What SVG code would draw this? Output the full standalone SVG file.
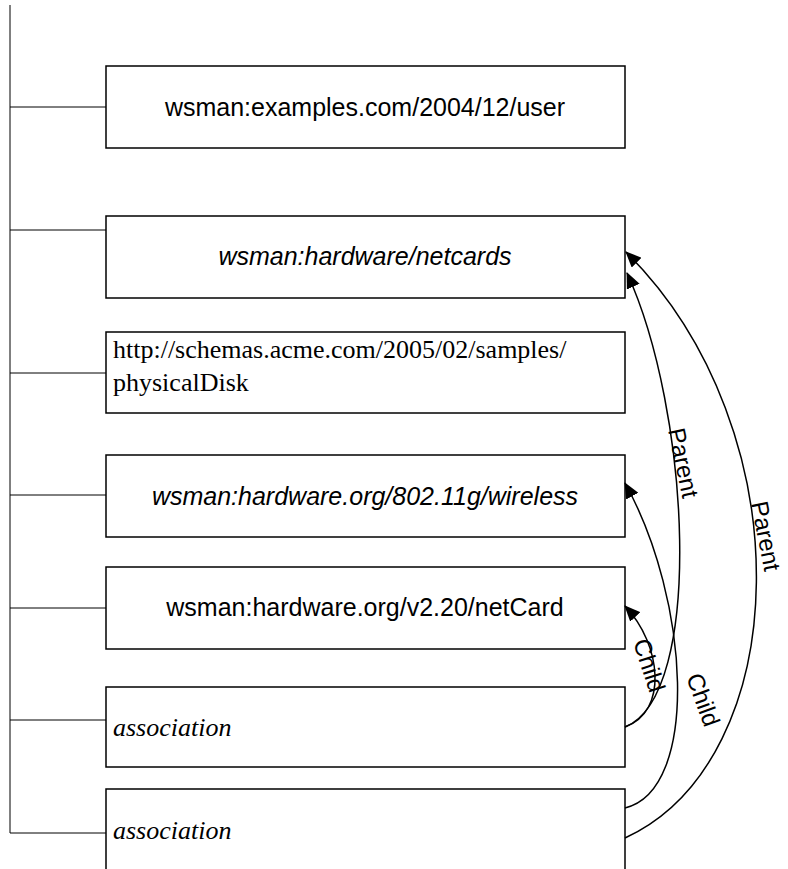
<svg xmlns="http://www.w3.org/2000/svg" width="788" height="869" viewBox="0 0 788 869">
<style>
.box{fill:#fff;stroke:#000;stroke-width:1.5}
.tree{stroke:#000;stroke-width:1;fill:none}
.edge{stroke:#000;stroke-width:1.5;fill:none;marker-end:url(#ah)}
.sans{font-family:"Liberation Sans",Arial,sans-serif;font-size:25px;fill:#000}
.serif{font-family:"Liberation Serif","Times New Roman",serif;font-size:26px;fill:#000}
.lbl{font-family:"Liberation Sans",Arial,sans-serif;font-size:24px;fill:#000}
</style>
<defs>
<marker id="ah" markerWidth="16" markerHeight="14" refX="15" refY="7" orient="auto" markerUnits="userSpaceOnUse">
<path d="M0,0 L16,7 L0,14 Z" fill="#000"/>
</marker>
</defs>
<g id="tree">
<path class="tree" d="M10,5 V833 M10,107 H106 M10,230 H106 M10,373 H106 M10,495 H106 M10,608 H106 M10,720 H106 M10,833 H106"/>
</g>
<g id="n1"><rect class="box" x="106" y="66" width="519" height="82"/><text class="sans" x="365" y="116" text-anchor="middle">wsman:examples.com/2004/12/user</text></g>
<g id="n2"><rect class="box" x="106" y="216" width="519" height="82"/><text class="sans" x="365" y="265" text-anchor="middle" font-style="italic">wsman:hardware/netcards</text></g>
<g id="n3"><rect class="box" x="106" y="332" width="519" height="81"/><text class="serif" x="113" y="358">http://schemas.acme.com/2005/02/samples/</text><text class="serif" x="113" y="391">physicalDisk</text></g>
<g id="n4"><rect class="box" x="106" y="455" width="519" height="82"/><text class="sans" x="365" y="505" text-anchor="middle" font-style="italic">wsman:hardware.org/802.11g/wireless</text></g>
<g id="n5"><rect class="box" x="106" y="567" width="519" height="82"/><text class="sans" x="365" y="616" text-anchor="middle">wsman:hardware.org/v2.20/netCard</text></g>
<g id="n6"><rect class="box" x="106" y="687" width="519" height="80"/><text class="serif" x="113" y="736" font-style="italic">association</text></g>
<g id="n7"><rect class="box" x="106" y="789" width="519" height="100"/><text class="serif" x="113" y="839" font-style="italic">association</text></g>
<g id="edges">
<path class="edge" d="M625,727 C668,712 662,645 625,606"/>
<path class="edge" d="M625,727 C705,695 690,410 627,273"/>
<path class="edge" d="M625,808 C700,790 690,600 625,483"/>
<path class="edge" d="M625,838 C795,760 805,430 626,252"/>
<text class="lbl" transform="translate(633,642) rotate(72)">Child</text>
<text class="lbl" transform="translate(686,677) rotate(70)">Child</text>
<text class="lbl" transform="translate(668,430) rotate(78)">Parent</text>
<text class="lbl" transform="translate(751,503) rotate(79)">Parent</text>
</g>
</svg>
